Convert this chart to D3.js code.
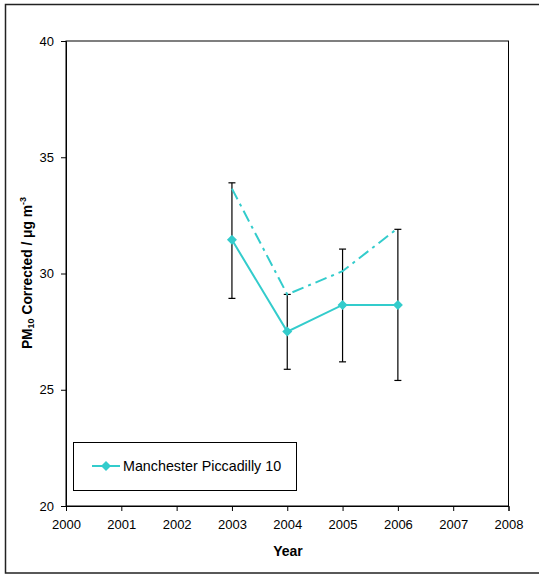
<!DOCTYPE html>
<html>
<head>
<meta charset="utf-8">
<script src="https://cdn.jsdelivr.net/npm/d3@7"></script>
<style>
  html, body { margin: 0; padding: 0; background: #fff; }
  svg { display: block; font-family: Arial, "Liberation Sans", sans-serif; }
</style>
</head>
<body>
<svg id="chart" width="539" height="575"></svg>
<script>
// Annual mean PM10 (corrected) at Manchester Piccadilly
const years = [2003, 2004, 2005, 2006];
const meanValues = [31.45, 27.5, 28.65, 28.65];
const upperLine = [33.65, 29.1, 30.1, 31.95];
const errHigh = [33.9, 29.1, 31.05, 31.9];
const errLow = [28.93, 25.88, 26.2, 25.4];
const xTicks = [2000, 2001, 2002, 2003, 2004, 2005, 2006, 2007, 2008];
const yTicks = [20, 25, 30, 35, 40];
const seriesName = "Manchester Piccadilly 10";

const color = "#33CCCC";
const svg = d3.select("#chart");

// outer chart frame
svg.append("rect")
  .attr("x", 5.5).attr("y", 4.5)
  .attr("width", 545).attr("height", 568.5)
  .attr("fill", "#fff").attr("stroke", "#222").attr("stroke-width", 1.5);

const plot = { left: 66, right: 508.5, top: 41, bottom: 506 };

const x = d3.scaleLinear().domain([2000, 2008]).range([plot.left, plot.right]);
const y = d3.scaleLinear().domain([20, 40]).range([plot.bottom, plot.top]);

// plot area box
svg.append("rect")
  .attr("x", plot.left).attr("y", plot.top)
  .attr("width", plot.right - plot.left).attr("height", plot.bottom - plot.top)
  .attr("fill", "none").attr("stroke", "#000").attr("stroke-width", 1);

// axes
const xAxis = svg.append("g")
  .attr("transform", `translate(0,${plot.bottom})`)
  .call(d3.axisBottom(x).tickValues(xTicks).tickFormat(d3.format("d")).tickSize(5).tickPadding(9));
const yAxis = svg.append("g")
  .attr("transform", `translate(${plot.left},0)`)
  .call(d3.axisLeft(y).tickValues(yTicks).tickFormat(d3.format("d")).tickSize(5).tickPadding(7));
[xAxis, yAxis].forEach(g => {
  g.select(".domain").attr("stroke", "#000");
  g.selectAll(".tick line").attr("stroke", "#000");
  g.selectAll(".tick text").attr("fill", "#000")
    .style("font-family", "Arial, 'Liberation Sans', sans-serif").style("font-size", "13px");
});

// error bars
const eb = svg.append("g").attr("stroke", "#000").attr("stroke-width", 1.2);
years.forEach((yr, i) => {
  const cx = x(yr);
  eb.append("line").attr("x1", cx).attr("x2", cx).attr("y1", y(errHigh[i])).attr("y2", y(errLow[i]));
  eb.append("line").attr("x1", cx - 3.5).attr("x2", cx + 3.5).attr("y1", y(errHigh[i])).attr("y2", y(errHigh[i]));
  eb.append("line").attr("x1", cx - 3.5).attr("x2", cx + 3.5).attr("y1", y(errLow[i])).attr("y2", y(errLow[i]));
});

const line = d3.line().x(d => x(d[0])).y(d => y(d[1]));

// upper dash-dot line
svg.append("path")
  .datum(years.map((yr, i) => [yr, upperLine[i]]))
  .attr("d", line)
  .attr("fill", "none").attr("stroke", color).attr("stroke-width", 2)
  .attr("stroke-dasharray", "12,5,3,5");

// mean series
const meanData = years.map((yr, i) => [yr, meanValues[i]]);
svg.append("path")
  .datum(meanData)
  .attr("d", line)
  .attr("fill", "none").attr("stroke", color).attr("stroke-width", 2);

// square markers turned 45° so they read as even diamonds
const marker = d3.symbol().type(d3.symbolSquare).size(50);
svg.append("g").selectAll("path")
  .data(meanData).join("path")
  .attr("transform", d => `translate(${x(d[0])},${y(d[1])}) rotate(45)`)
  .attr("d", marker)
  .attr("fill", color);

// legend
const lg = svg.append("g");
lg.append("rect")
  .attr("x", 73.5).attr("y", 442.5).attr("width", 223).attr("height", 48)
  .attr("fill", "#fff").attr("stroke", "#000").attr("stroke-width", 1);
lg.append("line")
  .attr("x1", 92).attr("x2", 120).attr("y1", 466).attr("y2", 466)
  .attr("stroke", color).attr("stroke-width", 2);
lg.append("path")
  .attr("transform", "translate(106,466) rotate(45)")
  .attr("d", marker).attr("fill", color);
lg.append("text")
  .attr("x", 123).attr("y", 471)
  .attr("font-size", 14.3).attr("fill", "#000")
  .text(seriesName);

// axis titles
svg.append("text")
  .attr("x", 288).attr("y", 556)
  .attr("text-anchor", "middle")
  .attr("font-size", 14).attr("font-weight", "bold")
  .text("Year");

const yt = svg.append("text")
  .attr("transform", "translate(32,273) rotate(-90)")
  .attr("text-anchor", "middle")
  .attr("font-size", 13.8).attr("font-weight", "bold");
yt.append("tspan").text("PM");
yt.append("tspan").attr("font-size", 9).attr("dy", 1.5).text("10");
yt.append("tspan").attr("dy", -1.5).text(" Corrected / μg m");
yt.append("tspan").attr("font-size", 9).attr("dy", -6).text("-3");
</script>
</body>
</html>
